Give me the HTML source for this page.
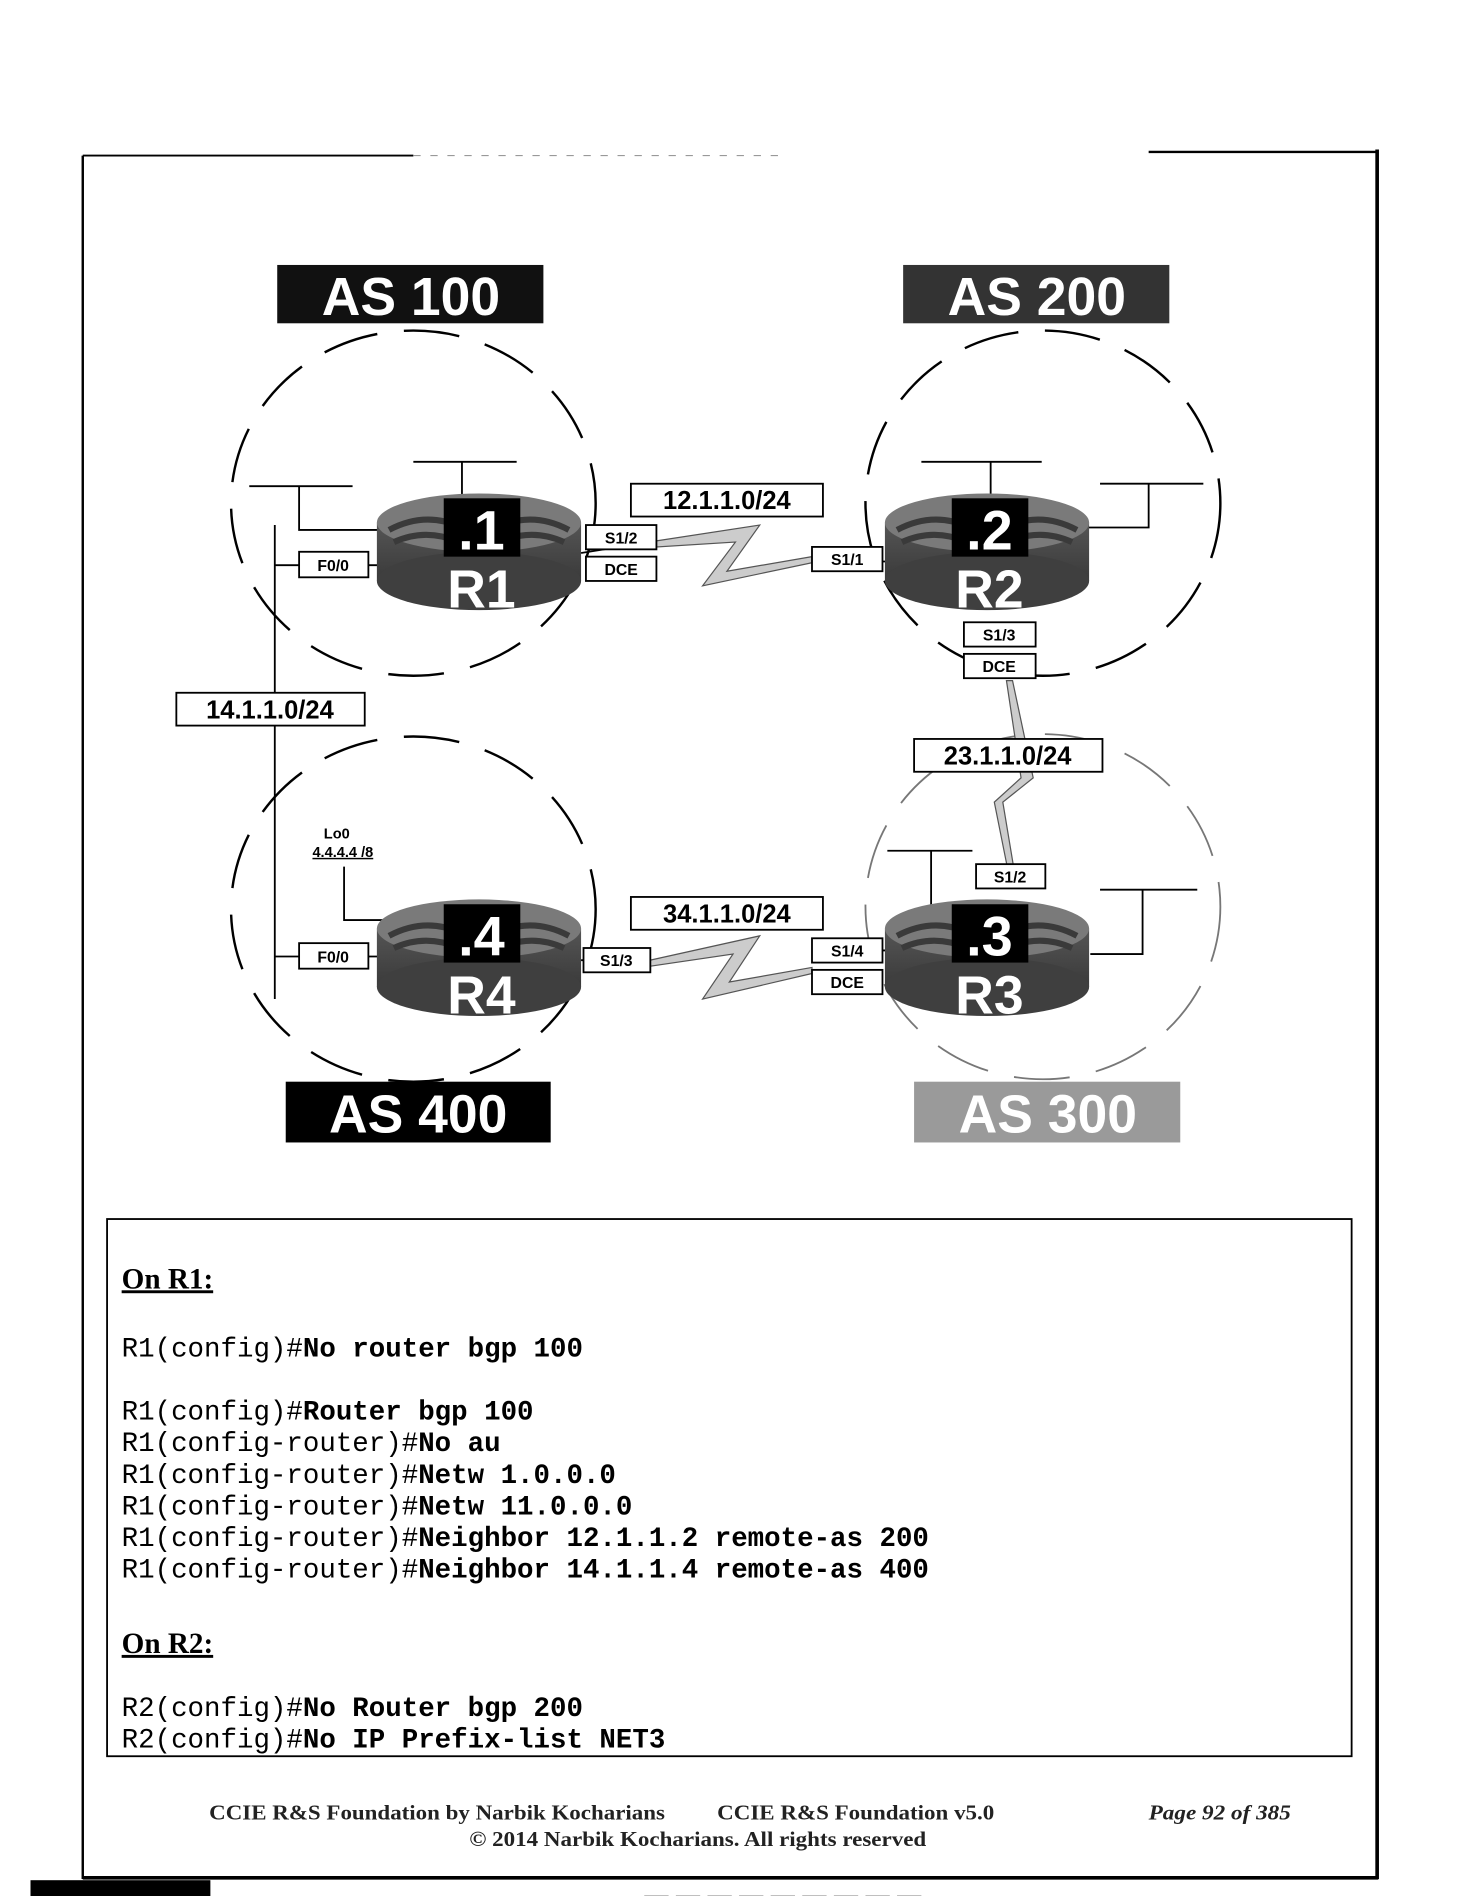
<!DOCTYPE html>
<html><head><meta charset="utf-8"><style>
html,body{margin:0;padding:0;background:#fff;}
svg{display:block;}
</style></head><body>
<svg width="1483" height="1896" viewBox="0 0 1220 1560" xmlns="http://www.w3.org/2000/svg">
<defs>
<linearGradient id="body" x1="0" x2="0" y1="0" y2="1"><stop offset="0" stop-color="#555"/><stop offset="1" stop-color="#3a3a3a"/></linearGradient>
<g id="router">
  <rect x="0" y="24" width="168" height="48" fill="url(#body)"/>
  <ellipse cx="84" cy="72" rx="84" ry="24" fill="#3f3f3f"/>
  <ellipse cx="84" cy="24" rx="84" ry="24" fill="#7a7a7a"/>
  <path d="M10 30 Q40 14 70 28 M98 28 Q128 14 158 30 M14 40 Q40 28 68 40 M100 40 Q128 28 154 40" stroke="#3a3a3a" stroke-width="5" fill="none"/>
  <path d="M60 6 L75 14 M108 6 L93 14 M60 44 L75 36 M108 44 L93 36" stroke="#ddd" stroke-width="4"/>
</g>
</defs>
<!-- page frame -->
<line x1="68" y1="128" x2="340" y2="128" stroke="#000" stroke-width="1.5"/>
<line x1="340" y1="128" x2="645" y2="128" stroke="#999" stroke-width="1" stroke-dasharray="6 8"/>
<line x1="945" y1="125" x2="1133" y2="125" stroke="#000" stroke-width="2"/>
<line x1="68" y1="128" x2="68" y2="1546" stroke="#000" stroke-width="2"/>
<line x1="1133" y1="123" x2="1133" y2="1546" stroke="#000" stroke-width="3"/>
<line x1="68" y1="1545" x2="1134" y2="1545" stroke="#000" stroke-width="3"/>
<rect x="25" y="1547" width="148" height="19" fill="#000"/>
<line x1="530" y1="1560" x2="760" y2="1560" stroke="#999" stroke-dasharray="20 6"/>

<!-- AS labels -->
<g font-family="Liberation Sans, sans-serif" font-weight="bold" font-size="44" text-anchor="middle">
<rect x="228" y="218" width="219" height="48" fill="#111"/><text x="338" y="259" fill="#fff">AS 100</text>
<rect x="743" y="218" width="219" height="48" fill="#333"/><text x="853" y="259" fill="#fff">AS 200</text>
<rect x="235" y="890" width="218" height="50" fill="#000"/><text x="344" y="932" fill="#fff">AS 400</text>
<rect x="752" y="890" width="219" height="50" fill="#9a9a9a"/><text x="862" y="932" fill="#fff">AS 300</text>
</g>

<!-- dashed ellipses -->
<g fill="none" stroke="#000" stroke-width="2" stroke-dasharray="46 22">
<ellipse cx="340" cy="414" rx="150" ry="142"/>
<ellipse cx="858" cy="414" rx="146" ry="142"/>
<ellipse cx="340" cy="748" rx="150" ry="142"/>
</g>
<ellipse cx="858" cy="746" rx="146" ry="142" fill="none" stroke="#777" stroke-width="1.5" stroke-dasharray="46 22"/>

<!-- stub lines -->
<g stroke="#000" stroke-width="1.5" fill="none">
<path d="M205 400 H290 M246 400 V436 H315 M340 380 H425 M380 380 V410"/>
<path d="M226 432 V822 M226 465 H246 M303 465 H315 M226 787 H246 M303 787 H315"/>
<path d="M758 380 H857 M815 380 V410 M905 398 H990 M945 398 V434 H895"/>
<path d="M730 700 H800 M766 700 V745 M905 732 H985 M940 732 V785 H897"/>
<path d="M283 713 V757 H315"/>
<path d="M478 455 L540 445 M478 790 L535 790 M726 462 L735 462 M726 782 L735 782"/>
</g>

<!-- serial links -->
<g fill="#ccc" stroke="#555" stroke-width="1">
<polygon points="540,445 625,432 598,470 668,458 668,463 578,482 605,446 540,450"/>
<polygon points="535,790 625,770 600,808 668,796 668,801 578,822 603,785 535,795"/>
<polygon points="828,560 833,560 850,640 825,660 835,720 830,720 818,660 840,640"/>
</g>

<!-- routers -->
<use href="#router" x="310" y="406"/>
<use href="#router" x="728" y="406"/>
<use href="#router" x="310" y="740"/>
<use href="#router" x="728" y="740"/>
<g font-family="Liberation Sans, sans-serif" font-weight="bold" text-anchor="middle" fill="#fff">
<rect x="365" y="410" width="63" height="48" fill="#000"/><text x="396" y="452" font-size="46">.1</text><text x="396" y="500" font-size="44">R1</text>
<rect x="783" y="410" width="63" height="48" fill="#000"/><text x="814" y="452" font-size="46">.2</text><text x="814" y="500" font-size="44">R2</text>
<rect x="365" y="744" width="63" height="48" fill="#000"/><text x="396" y="786" font-size="46">.4</text><text x="396" y="834" font-size="44">R4</text>
<rect x="783" y="744" width="63" height="48" fill="#000"/><text x="814" y="786" font-size="46">.3</text><text x="814" y="834" font-size="44">R3</text>
</g>

<!-- label boxes -->
<g font-family="Liberation Sans, sans-serif" font-weight="bold" text-anchor="middle" fill="#000">
<g fill="#fff" stroke="#000" stroke-width="1.5">
<rect x="519" y="398" width="158" height="27"/><rect x="752" y="608" width="155" height="27"/>
<rect x="519" y="738" width="158" height="27"/><rect x="145" y="570" width="155" height="27"/>
<rect x="482" y="432" width="58" height="20"/><rect x="482" y="458" width="58" height="20"/>
<rect x="668" y="450" width="58" height="20"/><rect x="793" y="512" width="59" height="20"/>
<rect x="793" y="538" width="59" height="20"/><rect x="803" y="711" width="57" height="20"/>
<rect x="480" y="780" width="55" height="20"/><rect x="668" y="772" width="58" height="20"/>
<rect x="668" y="798" width="58" height="20"/><rect x="246" y="454" width="57" height="21"/>
<rect x="246" y="776" width="57" height="21"/>
</g>
<g font-size="21"><text x="598" y="419">12.1.1.0/24</text><text x="829" y="629">23.1.1.0/24</text><text x="598" y="759">34.1.1.0/24</text><text x="222" y="591">14.1.1.0/24</text></g>
<g font-size="13"><text x="511" y="447">S1/2</text><text x="511" y="473">DCE</text><text x="697" y="465">S1/1</text><text x="822" y="527">S1/3</text><text x="822" y="553">DCE</text><text x="831" y="726">S1/2</text><text x="507" y="795">S1/3</text><text x="697" y="787">S1/4</text><text x="697" y="813">DCE</text><text x="274" y="470">F0/0</text><text x="274" y="792">F0/0</text></g>
<g font-size="12"><text x="277" y="690">Lo0</text><text x="282" y="705" text-decoration="underline">4.4.4.4 /8</text></g>
</g>

<!-- text box -->
<rect x="88" y="1003" width="1024" height="442" fill="none" stroke="#000" stroke-width="1.5"/>
<g font-family="Liberation Serif, serif" font-weight="bold" font-size="24" text-decoration="underline">
<text x="100" y="1060">On R1:</text><text x="100" y="1360">On R2:</text>
</g>
<g font-family="Liberation Mono, monospace" font-size="22.6" fill="#000" xml:space="preserve">
<text x="100" y="1116">R1(config)#<tspan font-weight="bold">No router bgp 100</tspan></text>
<text x="100" y="1168">R1(config)#<tspan font-weight="bold">Router bgp 100</tspan></text>
<text x="100" y="1194">R1(config-router)#<tspan font-weight="bold">No au</tspan></text>
<text x="100" y="1220">R1(config-router)#<tspan font-weight="bold">Netw 1.0.0.0</tspan></text>
<text x="100" y="1246">R1(config-router)#<tspan font-weight="bold">Netw 11.0.0.0</tspan></text>
<text x="100" y="1272">R1(config-router)#<tspan font-weight="bold">Neighbor 12.1.1.2 remote-as 200</tspan></text>
<text x="100" y="1298">R1(config-router)#<tspan font-weight="bold">Neighbor 14.1.1.4 remote-as 400</tspan></text>
<text x="100" y="1412">R2(config)#<tspan font-weight="bold">No Router bgp 200</tspan></text>
<text x="100" y="1438">R2(config)#<tspan font-weight="bold">No IP Prefix-list NET3</tspan></text>
</g>

<!-- footer -->
<g font-family="Liberation Serif, serif" font-weight="bold" font-size="17" fill="#222">
<text x="172" y="1497" textLength="375" lengthAdjust="spacingAndGlyphs">CCIE R&amp;S Foundation by Narbik Kocharians</text>
<text x="590" y="1497" textLength="228" lengthAdjust="spacingAndGlyphs">CCIE R&amp;S Foundation v5.0</text>
<text x="945" y="1497" font-style="italic" textLength="117" lengthAdjust="spacingAndGlyphs">Page 92 of 385</text>
<text x="386" y="1519" textLength="376" lengthAdjust="spacingAndGlyphs">© 2014 Narbik Kocharians. All rights reserved</text>
</g>
</svg>
</body></html>
